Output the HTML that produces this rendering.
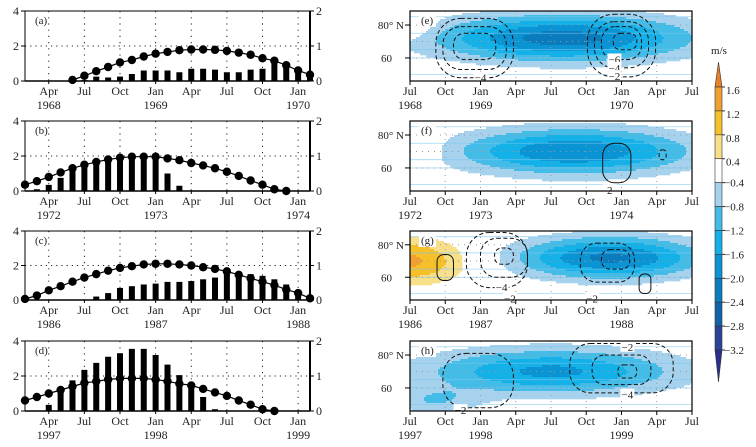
<!DOCTYPE html>
<html><head><meta charset="utf-8"><style>
html,body{margin:0;padding:0;background:#fff}
svg{display:block;font-family:"Liberation Serif",serif}
</style></head><body>
<svg id="fig" width="756" height="447" viewBox="0 0 756 447" xmlns="http://www.w3.org/2000/svg"></svg>
<script>
// ---------- data: left panels (monthly, Feb of year1 .. Feb of year1+2) ----------
const barsA=[0,0,0,0,0,0.05,0.25,0.2,0.25,0.4,0.6,0.6,0.6,0.5,0.7,0.7,0.65,0.5,0.5,0.65,0.7,1.15,0.9,0.6,0.3];
const dotsA=[null,null,null,null,0.03,0.15,0.28,0.4,0.53,0.6,0.7,0.78,0.83,0.88,0.9,0.9,0.89,0.86,0.81,0.75,0.65,0.58,0.45,0.3,0.18];
const barsB=[0,0.1,0.35,0.75,1.3,1.5,1.65,1.85,1.95,2.1,2.0,1.95,1.0,0.3,0,0,0,0,0,0,0,0,0,0,0];
const dotsB=[0.18,0.28,0.4,0.53,0.65,0.75,0.83,0.9,0.95,0.98,0.98,0.98,0.93,0.88,0.8,0.73,0.65,0.55,0.43,0.3,0.18,0.05,0,null,null];
const barsC=[0,0,0,0,0,0,0.2,0.4,0.7,0.8,0.9,0.95,1.05,1.05,1.1,1.2,1.3,1.65,1.55,1.5,1.4,1.2,0.9,0.5,0.1];
const dotsC=[0.03,0.13,0.28,0.4,0.53,0.65,0.75,0.85,0.93,0.98,1.03,1.05,1.05,1.03,1.0,0.95,0.9,0.83,0.73,0.63,0.53,0.43,0.3,0.2,0.05];
const barsD=[0,0,0.35,1.2,1.75,2.35,2.75,3.1,3.3,3.55,3.55,3.2,2.65,2.05,1.5,0.8,0.1,0,0,0,0,0,0,0,0];
const dotsD=[0.3,0.4,0.5,0.6,0.7,0.8,0.85,0.9,0.93,0.93,0.93,0.9,0.85,0.78,0.73,0.63,0.53,0.43,0.3,0.18,0.05,0,null,null,null];
const leftYTicks=[0,2,4];
const rightYTicks=[0,1,2];
const leftMonthLabels=["Apr","Jul","Oct","Jan","Apr","Jul","Oct","Jan"];
const yearsA=["1968","1969","1970"],yearsB=["1972","1973","1974"],yearsC=["1986","1987","1988"],yearsD=["1997","1998","1999"];
// ---------- data: right panels (field blobs: month from Jul, lat, amplitude) ----------
const blobM_E=[13,-1,20], blobL_E=[72,80,42], blobA_E=[-2.2,0.8,0.6], blobSM_E=[11,2.5,6], blobSL_E=[14,8,3];
const blobM_F=[14,-1,13], blobL_F=[70,72,43], blobA_F=[-2.0,0.7,0.5], blobSM_F=[10,3,6], blobSL_F=[14,12,2];
const blobM_G=[0,17,9], blobL_G=[70,72,42], blobA_G=[1.3,-2.1,0.5], blobSM_G=[5,8,5], blobSL_G=[14,13,3];
const blobM_H=[12,2,23], blobL_H=[70,52,43], blobA_H=[-1.7,-0.7,0.6], blobSM_H=[11,4,4], blobSL_H=[14,8,4];
// contours: center month, lat, half-width months, half-height deg, dashed(1)/solid(0)
const contE=[[5.5,66,3.3,18,1],[5.5,66,2.7,13,1],[5.5,67,1.8,8,1],[18,67.5,2.9,19,1],[18,68,2.3,14,1],[18,69,1.7,10,1],[18.3,70,1,5,1]];
const contF=[[17.6,63,1.2,12,0],[21.5,68,0.3,3,1]];
const contG=[[7.4,70.6,2.6,17,1],[8,72,2,12,1],[8,73,0.8,5,1],[3,66,0.7,8,0],[16.8,69,2.3,12,1],[17.5,71,1.2,6,1],[20,56,0.5,6,0]];
const contH=[[5.8,64.5,3,16.5,1],[18,72,4.4,15,1],[18,71,2.5,9,1],[18.5,70,0.8,4,1]];
// contour labels: month, lat, text
const labE=[[6,48,"\u22124"],[17.4,59,"\u22126"],[17.4,54,"\u22124"],[17.4,49,"\u22122"]];
const labF=[[17,46.5,"2"]];
const labG=[[7.8,54,"\u22124"],[8.5,47,"\u22122"],[15.5,47,"\u22122"]];
const labH=[[4.3,46.5,"\u22122"],[18.5,85,"\u22122"],[18.5,56,"\u22124"]];
const rightMonthLabels=["Jul","Oct","Jan","Apr","Jul","Oct","Jan","Apr","Jul"];
const yearsE=["1968","1969","1970"],yearsF=["1972","1973","1974"],yearsG=["1986","1987","1988"],yearsH=["1997","1998","1999"];
const cbLevels=[1.6,1.2,0.8,0.4,-0.4,-0.8,-1.2,-1.6,-2.0,-2.4,-2.8,-3.2];
const cbColors=["#e8802a","#f0a030","#f5c02a","#f8e08a","#ffffff","#a6d2ee","#44bce8","#14b0e8","#0a94d4","#0a7cbe","#1262aa","#2a4298","#2a2f8e"];

const NS="http://www.w3.org/2000/svg";
const svg=document.getElementById('fig');
function mk(tag,attrs,parent){const e=document.createElementNS(NS,tag);for(const k in attrs)e.setAttribute(k,attrs[k]);(parent||svg).appendChild(e);return e;}
function txt(s,x,y,anchor,parent,size){const t=mk('text',{x:x,y:y,'text-anchor':anchor||'middle','font-size':size||11,fill:'#222'},parent);t.textContent=s;return t;}

// ---------- left panels ----------
const LX0=25,LX1=310,MPX=(LX1-LX0)/24;
const leftPanels=[
 {n:'a',top:11,bot:81,bars:barsA,dots:dotsA,years:yearsA},
 {n:'b',top:121,bot:191,bars:barsB,dots:dotsB,years:yearsB},
 {n:'c',top:231,bot:300,bars:barsC,dots:dotsC,years:yearsC},
 {n:'d',top:341,bot:411,bars:barsD,dots:dotsD,years:yearsD}];
leftPanels.forEach(p=>{
  const g=mk('g',{});
  
  
  const xs=i=>LX0+i*MPX;
  const yL=v=>p.bot-(v/4)*(p.bot-p.top);
  const yR=v=>p.bot-(v/2)*(p.bot-p.top);
  for(let q=0;q<8;q++){const x=xs(2+q*3);const l=mk('line',{x1:x,x2:x,y1:p.top,y2:p.bot,stroke:'#222','stroke-width':1,'stroke-dasharray':'1.2,5'},g);}
  const hg=mk('line',{x1:LX0,x2:LX1,y1:yL(2),y2:yL(2),stroke:'#222','stroke-width':1,'stroke-dasharray':'1.2,4'},g);
  
  p.bars.forEach((v,i)=>{if(v<=0)return;const r=mk('rect',{x:xs(i)-3,y:yL(v),width:6,height:p.bot-yL(v),fill:'#000'},g);
    });
  let d='';p.dots.forEach((v,i)=>{if(v===null)return;d+=(d?'L':'M')+xs(i).toFixed(1)+','+yR(v).toFixed(1);});
  const pl=mk('path',{d:d,fill:'none',stroke:'#000','stroke-width':1.2},g);
  
  p.dots.forEach((v,i)=>{if(v===null)return;const c=mk('circle',{cx:xs(i),cy:yR(v),r:4.2,fill:'#000'},g);
    });
  const fr=mk('rect',{x:LX0,y:p.top,width:LX1-LX0,height:p.bot-p.top,fill:'none',stroke:'#000','stroke-width':1},g);
  
  mk('line',{x1:LX1,x2:LX1,y1:p.top,y2:p.bot,stroke:'#000','stroke-width':2},g);
  mk('line',{x1:LX0,x2:LX1,y1:p.bot,y2:p.bot,stroke:'#000','stroke-width':1.6},g);
  leftYTicks.forEach(v=>{mk('line',{x1:LX0-4,x2:LX0,y1:yL(v),y2:yL(v),stroke:'#000'},g);const t=txt(String(v),16,yL(v)+4,'middle',g,12);});
  rightYTicks.forEach(v=>{mk('line',{x1:LX1,x2:LX1+4,y1:yR(v),y2:yR(v),stroke:'#000'},g);const t=txt(String(v),319,yR(v)+4,'middle',g,12);});
  leftMonthLabels.forEach((s,q)=>{const x=xs(2+q*3);mk('line',{x1:x,x2:x,y1:p.bot,y2:p.bot+3,stroke:'#000'},g);const t=txt(s,x,p.bot+14,'middle',g,12);});
  [[2,0],[11,1],[23,2]].forEach(([i,k])=>{const t=txt(p.years[k],xs(i),p.bot+28,'middle',g,12);});
  const pt=txt('('+p.n+')',35,p.top+13,'start',g,11);
});

// ---------- right panels ----------
const RX0=410,RX1=692,RMPX=(RX1-RX0)/24;
const LATTOP=88.5,LATBOT=46;
function colorFor(v){if(v>1.6)return cbColors[0];for(let k=0;k<cbLevels.length-1;k++){if(v>cbLevels[k+1]&&v<=cbLevels[k])return cbColors[k+1];}return cbColors[12];}
const rightPanels=[
 {n:'e',top:11,bot:81,bm:blobM_E,bl:blobL_E,ba:blobA_E,sm:blobSM_E,sl:blobSL_E,cont:contE,lab:labE,years:yearsE},
 {n:'f',top:121,bot:191,bm:blobM_F,bl:blobL_F,ba:blobA_F,sm:blobSM_F,sl:blobSL_F,cont:contF,lab:labF,years:yearsF},
 {n:'g',top:231,bot:300,bm:blobM_G,bl:blobL_G,ba:blobA_G,sm:blobSM_G,sl:blobSL_G,cont:contG,lab:labG,years:yearsG},
 {n:'h',top:341,bot:411,bm:blobM_H,bl:blobL_H,ba:blobA_H,sm:blobSM_H,sl:blobSL_H,cont:contH,lab:labH,years:yearsH}];
rightPanels.forEach(p=>{
  const g=mk('g',{});
  
  
  const xm=m=>RX0+m*RMPX;
  const yl=l=>p.top+(LATTOP-l)/(LATTOP-LATBOT)*(p.bot-p.top);
  const cw=2,ch=2;
  const field=mk('g',{},g);
  
  for(let x=RX0;x<RX1;x+=cw){for(let y=p.top;y<p.bot;y+=ch){
    const m=(x+cw/2-RX0)/RMPX, l=LATTOP-(y+ch/2-p.top)/(p.bot-p.top)*(LATTOP-LATBOT);
    let v=0;for(let k=0;k<p.ba.length;k++){v+=p.ba[k]*Math.exp(-Math.pow((m-p.bm[k])/p.sm[k],2)-Math.pow((l-p.bl[k])/p.sl[k],2));}
    const c=colorFor(v);if(c==='#ffffff')continue;
    mk('rect',{x:x,y:y,width:cw+0.3,height:ch+0.3,fill:c},field);
  }}
  [85,75,65,60,50].forEach(l=>mk('line',{x1:RX0,x2:RX1,y1:yl(l),y2:yl(l),stroke:'#7cc8ee','stroke-width':0.8,opacity:0.7},g));
  for(let q=1;q<8;q++){const x=xm(q*3);mk('line',{x1:x,x2:x,y1:p.top,y2:p.bot,stroke:'#999','stroke-width':1,'stroke-dasharray':'1,5'},g);}
  [80,70,60].forEach(l=>mk('line',{x1:RX0,x2:RX1,y1:yl(l),y2:yl(l),stroke:'#999','stroke-width':1,'stroke-dasharray':'1,5'},g));
  p.cont.forEach((c,i)=>{const w=c[2]*RMPX*2,h=Math.abs(yl(c[1]+c[3])-yl(c[1]))*2;
    const e=mk('rect',{x:xm(c[0])-w/2,y:yl(c[1])-h/2,width:w,height:h,rx:Math.min(w,h)*0.42,fill:'none',stroke:'#111','stroke-width':1,'stroke-dasharray':c[4]?'4,2.5':'none'},g);
    });
  p.lab.forEach(L=>{const x=xm(L[0]),y=yl(L[1]);mk('rect',{x:x-7,y:y-6,width:14,height:11,fill:'#fff'},g);
    const t=txt(L[2],x,y+4,'middle',g,11);});
  const fr=mk('rect',{x:RX0,y:p.top,width:RX1-RX0,height:p.bot-p.top,fill:'none',stroke:'#000','stroke-width':1.2},g);
  
  mk('line',{x1:RX0-5,x2:RX0,y1:yl(80),y2:yl(80),stroke:'#000'},g);
  mk('line',{x1:RX0-5,x2:RX0,y1:yl(60),y2:yl(60),stroke:'#000'},g);
  let t=txt('80° N',404,yl(80)+4,'end',g,11);
  t=txt('60',392,yl(60)+4,'end',g,11);
  rightMonthLabels.forEach((s,q)=>{const x=xm(q*3);mk('line',{x1:x,x2:x,y1:p.bot,y2:p.bot+4,stroke:'#000'},g);const tt=txt(s,x,p.bot+14,'middle',g,12);});
  [[0,0],[6,1],[18,2]].forEach(([m,k])=>{const tt=txt(p.years[k],xm(m),p.bot+28,'middle',g,12);});
  mk('rect',{x:419,y:p.top+3,width:17,height:13,fill:'#fff'},g);
  t=txt('('+p.n+')',421,p.top+13,'start',g,11);
});

// ---------- colorbar ----------
const cb=mk('g',{});


const CBX=715,CBW=7,CBTOP=87,CBSTEP=(350-87)/11;
const yc=k=>CBTOP+k*CBSTEP;
mk('polygon',{points:`${CBX},${CBTOP} ${CBX+CBW},${CBTOP} ${CBX+CBW/2},62`,fill:cbColors[0],stroke:'#333','stroke-width':0.6},cb);
for(let k=0;k<11;k++){const r=mk('rect',{x:CBX,y:yc(k),width:CBW,height:CBSTEP,fill:cbColors[k+1],stroke:'#333','stroke-width':0.6},cb);}
mk('polygon',{points:`${CBX},350 ${CBX+CBW},350 ${CBX+CBW/2},382`,fill:cbColors[12],stroke:'#333','stroke-width':0.6},cb);
cbLevels.forEach((v,k)=>{mk('line',{x1:CBX+CBW,x2:CBX+CBW+3,y1:yc(k),y2:yc(k),stroke:'#333'},cb);const s=(v<0?'\u2212':'')+Math.abs(v).toFixed(1);const t=txt(s,v<0?724:726,yc(k)+4+(k<4?3:0),'start',cb,11);});
const u=txt('m/s',719,54,'middle',cb,11);
</script>
</body></html>
